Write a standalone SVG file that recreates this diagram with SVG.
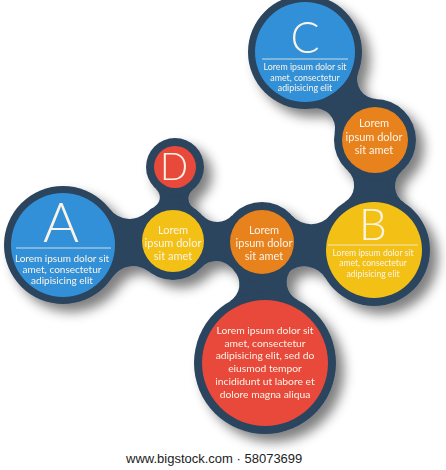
<svg xmlns="http://www.w3.org/2000/svg" width="446" height="470" viewBox="0 0 446 470">
<defs>
<filter id="shadow" x="-0.1" y="-0.1" width="1.3" height="1.3">
<feGaussianBlur in="SourceAlpha" stdDeviation="6"/>
<feOffset dx="8" dy="8" result="b"/>
<feFlood flood-color="#000" flood-opacity="0.5"/>
<feComposite in2="b" operator="in" result="s"/>
<feMerge><feMergeNode in="s"/><feMergeNode in="SourceGraphic"/></feMerge>
</filter>
</defs>
<style>
.ring{fill:#2c445d}
.neck{fill:#2c445d}
.blue{fill:#3290d8}
.orange{fill:#e8821e}
.yellow{fill:#f3c015}
.red{fill:#e8483b}
.t{font-family:Lato,"Open Sans","DejaVu Sans",sans-serif;fill:#fbf4e6;text-anchor:middle}
.big{font-weight:300}
.sep{stroke:#f3efe6;stroke-width:1;opacity:0.8}
</style>
<rect width="446" height="470" fill="#fff"/>
<g id="diagram" filter="url(#shadow)">
<g id="connectors">
<path class="neck" d="M109.82,209.10 A25,25 0 0 0 146.59,212.29 L148.75,271.55 A25,25 0 0 0 112.31,277.40 Z"/>
<path class="neck" d="M202.26,215.22 A20,20 0 0 0 232.18,215.33 L231.59,267.99 A20,20 0 0 0 201.68,267.43 Z"/>
<path class="neck" d="M192.76,189.92 A11,11 0 0 0 193.67,207.94 L154.14,206.87 A11,11 0 0 0 156.02,188.92 Z"/>
<path class="neck" d="M291.76,268.73 A20,20 0 0 0 297.49,299.88 L229.42,301.57 A20,20 0 0 0 233.60,270.17 Z"/>
<path class="neck" d="M292.10,215.66 A25,25 0 0 0 330.38,214.88 L325.83,278.57 A25,25 0 0 0 288.05,272.35 Z"/>
<path class="neck" d="M401.91,170.94 A20,20 0 0 0 404.23,202.86 L344.63,202.32 A20,20 0 0 0 347.54,170.44 Z"/>
<path class="neck" d="M358.37,72.01 A20,20 0 0 0 376.40,99.02 L334.76,132.16 A20,20 0 0 0 312.50,108.50 Z"/>
</g>
<g id="node-C">
<circle class="ring" cx="305" cy="52" r="57"/>
<circle class="blue" cx="305" cy="52" r="50"/>
<text class="t big" x="305" y="53" font-size="43">C</text>
<line class="sep" x1="262" y1="59" x2="348" y2="59"/>
<text class="t" x="305" y="70" font-size="8.8">Lorem ipsum dolor sit</text>
<text class="t" x="305" y="80.5" font-size="8.8">amet, consectetur</text>
<text class="t" x="305" y="91" font-size="8.8">adipisicing elit</text>
</g>
<g id="node-O1">
<circle class="ring" cx="375" cy="140" r="41"/>
<circle class="orange" cx="375" cy="140" r="33"/>
<text class="t" x="374" y="127" font-size="11">Lorem</text>
<text class="t" x="374" y="140.5" font-size="11">ipsum dolor</text>
<text class="t" x="374" y="154" font-size="11">sit amet</text>
</g>
<g id="node-B">
<circle class="ring" cx="374" cy="250" r="56"/>
<circle class="yellow" cx="374" cy="250" r="48"/>
<text class="t big" x="373" y="240" font-size="44">B</text>
<line class="sep" x1="328" y1="245" x2="418" y2="245"/>
<text class="t" x="373" y="255.5" font-size="8.6">Lorem ipsum dolor sit</text>
<text class="t" x="373" y="266" font-size="8.6">amet, consectetur</text>
<text class="t" x="373" y="276.5" font-size="8.6">adipisicing elit</text>
</g>
<g id="node-A">
<circle class="ring" cx="63" cy="245" r="59"/>
<circle class="blue" cx="63" cy="245" r="52"/>
<text class="t big" x="61" y="242" font-size="55">A</text>
<line class="sep" x1="16" y1="248" x2="111" y2="248"/>
<text class="t" x="62" y="262" font-size="10">Lorem ipsum dolor sit</text>
<text class="t" x="62" y="273" font-size="10">amet, consectetur</text>
<text class="t" x="62" y="284" font-size="10">adipisicing elit</text>
</g>
<g id="node-D">
<circle class="ring" cx="175" cy="167" r="29"/>
<circle class="red" cx="175" cy="167" r="21"/>
<text class="t big" x="174" y="180" font-size="37">D</text>
</g>
<g id="node-Y">
<circle class="ring" cx="173" cy="241" r="39"/>
<circle class="yellow" cx="173" cy="241" r="31"/>
<text class="t" x="173" y="233.5" font-size="11">Lorem</text>
<text class="t" x="173" y="246.5" font-size="11">ipsum dolor</text>
<text class="t" x="173" y="259.5" font-size="11">sit amet</text>
</g>
<g id="node-O2">
<circle class="ring" cx="262" cy="242" r="40"/>
<circle class="orange" cx="262" cy="242" r="32"/>
<text class="t" x="264" y="233.5" font-size="11">Lorem</text>
<text class="t" x="264" y="246.5" font-size="11">ipsum dolor</text>
<text class="t" x="264" y="259.5" font-size="11">sit amet</text>
</g>
<g id="node-Red">
<circle class="ring" cx="265" cy="363" r="71"/>
<circle class="red" cx="265" cy="363" r="63"/>
<text class="t" x="265" y="334" font-size="10.3">Lorem ipsum dolor sit</text>
<text class="t" x="265" y="346.5" font-size="10.3">amet, consectetur</text>
<text class="t" x="265" y="359" font-size="10.3">adipisicing elit, sed do</text>
<text class="t" x="265" y="372" font-size="10.3">eiusmod tempor</text>
<text class="t" x="265" y="385" font-size="10.3">incididunt ut labore et</text>
<text class="t" x="265" y="398" font-size="10.3">dolore magna aliqua</text>
</g>
</g>
<text x="126" y="463" font-family="'Liberation Sans',Arial,sans-serif" font-size="13" fill="#222">www.bigstock.com · 58073699</text>
</svg>
